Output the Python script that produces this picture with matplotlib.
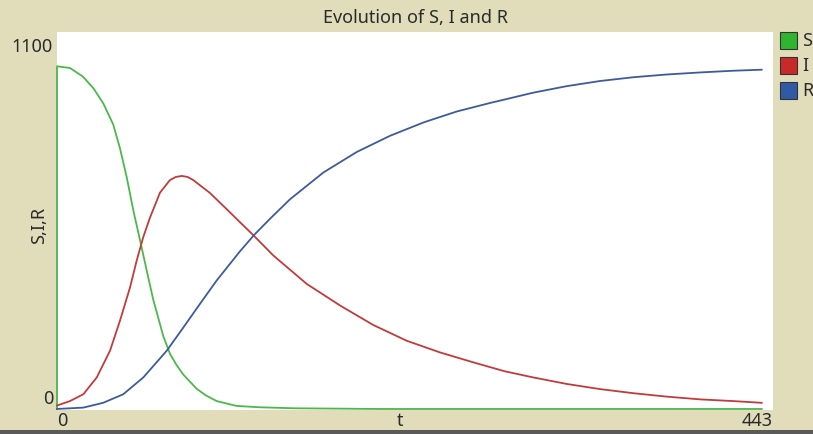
import matplotlib
matplotlib.use("Agg")
import matplotlib.pyplot as plt
from matplotlib.patches import Rectangle

# values (ticks vs. people)
t_s = [0, 0, 8, 16, 22.5, 28.6, 34.8, 39, 43.1, 47.2, 51.4, 55.5, 59.6, 65.8,
       69.9, 74, 78.2, 86.4, 92, 98.8, 111, 125, 147, 200, 300, 436]
s_vals = [0, 1000, 995, 970, 936, 892, 830, 760, 677, 580, 492, 404, 318, 212,
          161, 128, 100, 59, 40, 23, 9, 5, 2, 0, 0, 0]

t_i = [0, 8, 16.3, 24.6, 32.8, 39, 45.2, 49.3, 53.4, 57.5, 63.7, 69.9, 73.5,
       77.2, 80.8, 84.3, 94.7, 105, 113.2, 121.5, 133.8, 154.5, 175.1, 195.7,
       216.4, 237, 257.6, 277, 294.7, 315.4, 336, 356.6, 377.3, 397.9, 418.5, 436]
i_vals = [10, 23, 43, 92, 170, 258, 355, 433, 502, 558, 631, 668, 677,
          680, 677, 668, 630, 583, 545, 507, 448, 365, 302, 245,
          199, 165, 136, 110, 92, 73, 58, 46, 36, 28, 23, 18]

t_r = [0, 16.3, 28.6, 41, 53.4, 67.9, 78.2, 88.5, 98.8, 113.2, 122, 131.8,
       144.2, 164.8, 185.5, 206, 226.7, 247.3, 268, 277, 294.7, 315.4, 336,
       356.6, 377.3, 397.9, 418.5, 436]
r_vals = [0, 4, 18, 43, 92, 170, 238, 307, 375, 460, 508, 555,
          612, 690, 750, 797, 836, 868, 893, 903, 923, 942, 957,
          968, 976, 982, 987, 990]

series = ["S", "I", "R"]
line_colors = ["#4cb84c", "#c23b3b", "#3d5b9c"]
box_colors = ["#2fb52f", "#c82a2a", "#2f5aa6"]

x_max = 443
y_max = 1100

bg = "#e1ddbb"
txt = "#2a2a2a"
plt.rcParams["font.family"] = ["Noto Sans", "DejaVu Sans"]

fig = plt.figure(figsize=(8.13, 4.34), dpi=100, facecolor=bg)
ax = fig.add_axes([57 / 813, 24 / 434, 716 / 813, 378 / 434])
ax.set_facecolor("white")

for (tx, vals), c in zip([(t_s, s_vals), (t_i, i_vals), (t_r, r_vals)], line_colors):
    ax.plot(tx, vals, color=c, lw=1.3, solid_joinstyle="round", clip_on=False)

ax.set_xlim(0, x_max)
ax.set_ylim(-3, y_max)
ax.set_xticks([])
ax.set_yticks([])
for sp in ax.spines.values():
    sp.set_visible(False)

# title and axis labels, NetLogo style
fs = 13
fig.text(415 / 813, 1 - 18 / 434, "Evolution of S, I and R", ha="center", va="center",
         fontsize=fs, color=txt)
fig.text(53 / 813, 1 - 46.5 / 434, str(y_max), ha="right", va="center", fontsize=fs, color=txt)
fig.text(53 / 813, 1 - 399.5 / 434, "0", ha="right", va="center", fontsize=fs, color=txt)
fig.text(39 / 813, 1 - 225 / 434, "S,I,R", ha="center", va="center", rotation=90,
         fontsize=fs, color=txt)
fig.text(57 / 813, 1 - 421 / 434, "0", ha="left", va="center", fontsize=fs, color=txt)
fig.text(400 / 813, 1 - 421 / 434, "t", ha="center", va="center", fontsize=fs, color=txt)
fig.text(773 / 813, 1 - 421 / 434, str(x_max), ha="right", va="center", fontsize=fs, color=txt)

# legend boxes on the right edge (labels run off the panel like in NetLogo)
for k, (name, c) in enumerate(zip(series, box_colors)):
    top = 32 + k * 25
    fig.patches.append(Rectangle((780 / 813, 1 - (top + 17) / 434), 17 / 813, 17 / 434,
                                 transform=fig.transFigure, facecolor=c,
                                 edgecolor="#333333", lw=0.8))
    fig.text(802 / 813, 1 - (top + 9) / 434, name, ha="left", va="center",
             fontsize=fs, color=txt)

# dark border line along the bottom
fig.patches.append(Rectangle((0, 0), 1, 4 / 434, transform=fig.transFigure,
                             facecolor="#5a5a5a", edgecolor="none"))

fig.savefig("out.png", dpi=100, facecolor=bg)
